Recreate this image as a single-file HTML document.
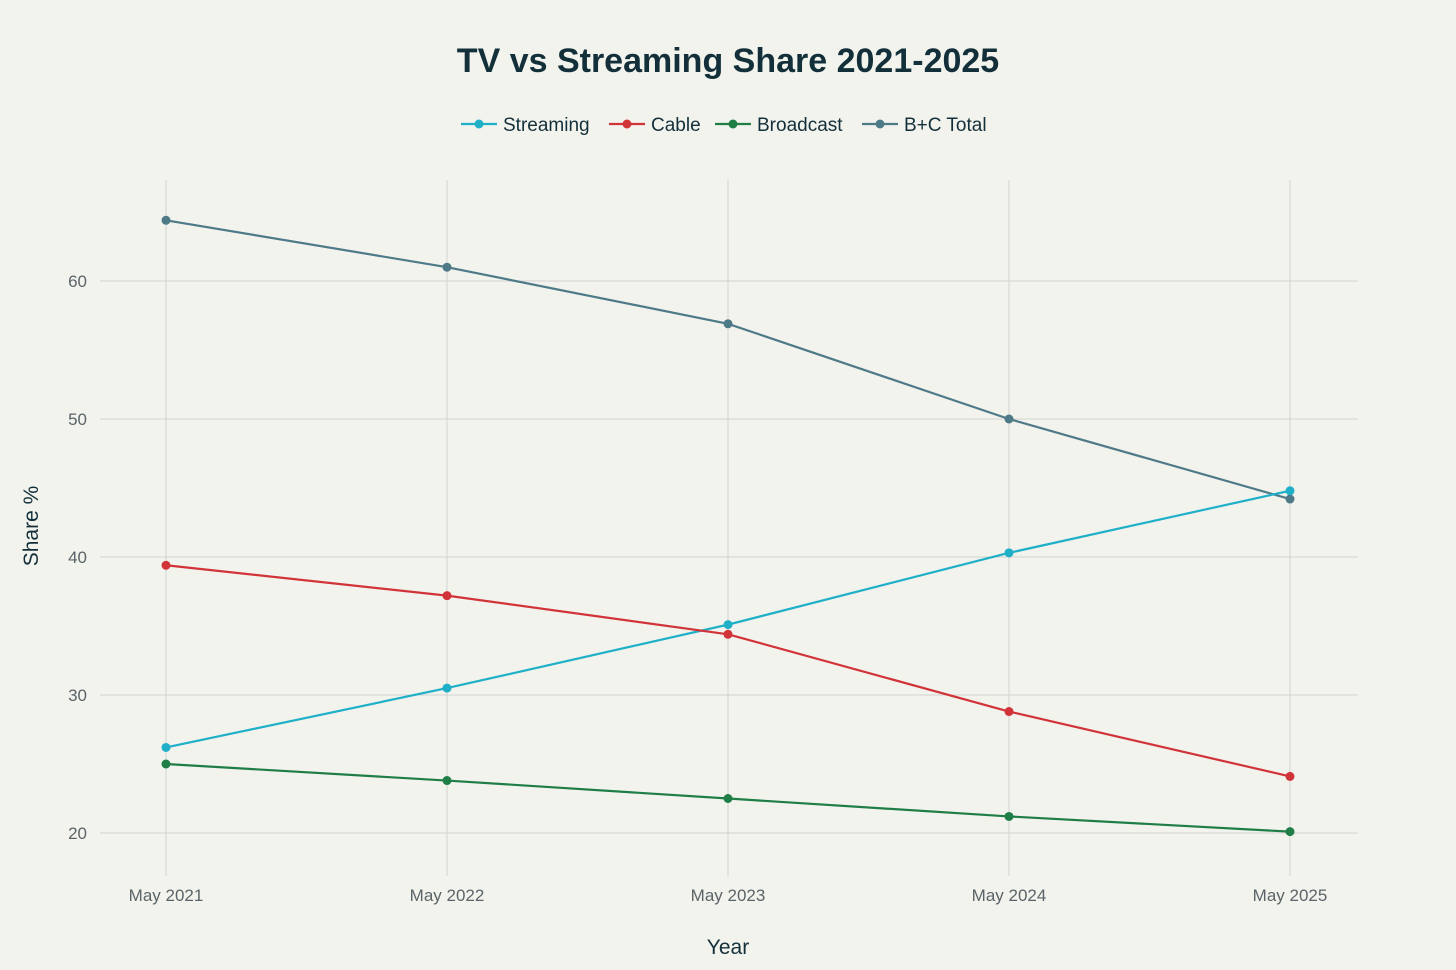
<!DOCTYPE html>
<html><head><meta charset="utf-8"><style>
html,body{margin:0;padding:0;background:#f3f3ee;}
svg{display:block;font-family:"Liberation Sans",sans-serif;}
</style></head><body>
<svg id="chart" width="1456" height="970" viewBox="0 0 1456 970">
<rect width="1456" height="970" fill="#f3f3ee"/>
<text x="728" y="72" text-anchor="middle" font-size="34" font-weight="bold" fill="#13303a">TV vs Streaming Share 2021-2025</text>
<g id="grid"></g>
<g id="series"></g>
<g id="legend"></g>
<text x="728" y="954" text-anchor="middle" font-size="21" fill="#13303a">Year</text>
<text transform="translate(38,526) rotate(-90)" text-anchor="middle" font-size="21" fill="#13303a">Share %</text>
</svg>
<script>
const categories=["May 2021","May 2022","May 2023","May 2024","May 2025"];
const streaming=[26.2,30.5,35.1,40.3,44.8];
const cable=[39.4,37.2,34.4,28.8,24.1];
const broadcast=[25.0,23.8,22.5,21.2,20.1];
const bcTotal=[64.4,61.0,56.9,50.0,44.2];
const yTicks=[20,30,40,50,60];
const seriesNames=["Streaming","Cable","Broadcast","B+C Total"];

const NS="http://www.w3.org/2000/svg";
function xs(i){return 166+i*281;}
function ys(v){return 833-(v-20)*13.8;}
function mk(tag,attrs,parent){const e=document.createElementNS(NS,tag);for(const k in attrs)e.setAttribute(k,attrs[k]);parent.appendChild(e);return e;}
const grid=document.getElementById('grid');
yTicks.forEach(t=>{
  const l=mk('line',{x1:100,x2:1358,y1:ys(t),y2:ys(t),stroke:'#d2d2cd','stroke-width':1},grid);
  
  
  const tx=mk('text',{x:87,y:ys(t)+6,'text-anchor':'end','font-size':17,fill:'#5a6468'},grid);
  tx.textContent=t;
  
  
});
categories.forEach((c,i)=>{
  const l=mk('line',{x1:xs(i),x2:xs(i),y1:180,y2:876,stroke:'#d2d2cd','stroke-width':1},grid);
  
  
  const tx=mk('text',{x:xs(i),y:901,'text-anchor':'middle','font-size':17,fill:'#5a6468'},grid);
  tx.textContent=c;
  
  
});
const colors=["#1fb0c8","#d13438","#1e7e45","#4e7a88"];
const data=[streaming,cable,broadcast,bcTotal];
const sg=document.getElementById('series');
[3,0,1,2].forEach(s=>{
  const g=mk('g',{},sg);
  
  
  const pts=data[s].map((v,i)=>xs(i)+','+ys(v)).join(' ');
  const pl=mk('polyline',{points:pts,fill:'none',stroke:colors[s],'stroke-width':2.2},g);
  
  
  data[s].forEach((v,i)=>{
    const c=mk('circle',{cx:xs(i),cy:ys(v),r:4.5,fill:colors[s]},g);
    
    
  });
});
const lg=document.getElementById('legend');
const lx=[461,609,715,862];
seriesNames.forEach((n,i)=>{
  const g=mk('g',{},lg);
  
  
  mk('line',{x1:lx[i],x2:lx[i]+36,y1:124,y2:124,stroke:colors[i],'stroke-width':2.2},g);
  mk('circle',{cx:lx[i]+18,cy:124,r:4.5,fill:colors[i]},g);
  const t=mk('text',{x:lx[i]+42,y:131,'font-size':19,fill:'#13303a'},g);
  t.textContent=n;
});
</script>
</body></html>
